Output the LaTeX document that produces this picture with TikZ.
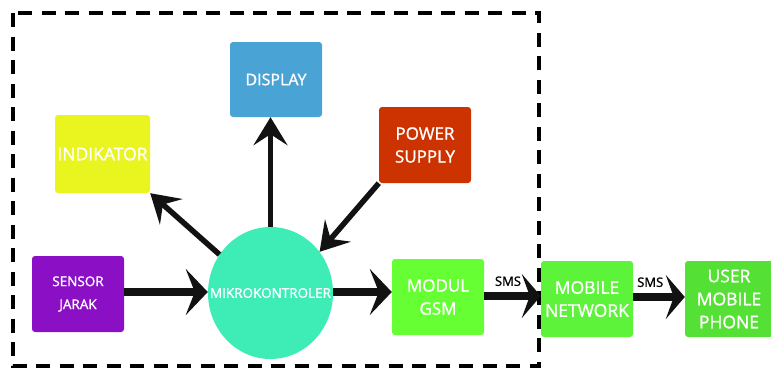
\documentclass[tikz,border=0pt]{standalone}
\usepackage{fontspec}
\setmainfont{Open Sans}
\newfontfamily\boxfont{Open Sans}[FakeBold=1.3]
\usetikzlibrary{arrows.meta,shapes.geometric}
\definecolor{cdisplay}{HTML}{4AA3D5}
\definecolor{cindik}{HTML}{EAF41E}
\definecolor{cpower}{HTML}{CC3300}
\definecolor{csensor}{HTML}{8B0FC4}
\definecolor{cmikro}{HTML}{3DEDB5}
\definecolor{cmodul}{HTML}{66FF33}
\definecolor{cmobile}{HTML}{5CF33A}
\definecolor{cuser}{HTML}{55E035}
\begin{document}
\begin{tikzpicture}[x=1pt,y=-1pt,
  blk/.style={rectangle, rounded corners=3pt, draw=none, text=white, align=center,
    inner sep=0pt, font=\boxfont\fontsize{17}{23}\selectfont},
  arr/.style={draw=black!93, line width=8pt, -{Stealth[length=22pt,width=46pt,inset=9pt]}},
  smsarr/.style={draw=black!93, line width=8pt, -{Stealth[length=19pt,width=44pt,inset=8pt]}},
  thinarr/.style={draw=black!93, line width=5.5pt, -{Stealth[length=28pt,width=34pt,inset=11pt]}},
  smslbl/.style={font=\boxfont\fontsize{13}{15}\selectfont, text=black, inner sep=0pt, anchor=south}
]
\useasboundingbox (0,0) rectangle (771,368);
% dashed frame
\draw[line width=3.5pt, dash pattern=on 14pt off 9.5pt] (13,13) rectangle (539,366);

% nodes
\node[blk, fill=cdisplay, minimum width=92pt, minimum height=75pt, font=\boxfont\fontsize{16}{23}\selectfont] (display) at (276,79.5) {DISPLAY};
\node[blk, fill=cindik, minimum width=95pt, minimum height=78pt, font=\boxfont\fontsize{17.5}{23}\selectfont] (indik) at (102.5,154) {INDIKATOR};
\node[blk, fill=cpower, minimum width=92pt, minimum height=76pt] (power) at (425,145) {POWER\\SUPPLY};
\node[blk, fill=csensor, minimum width=92pt, minimum height=76pt, font=\boxfont\fontsize{13.5}{23}\selectfont] (sensor) at (78,294) {SENSOR\\JARAK};
\node[ellipse, fill=cmikro, draw=none, inner sep=0pt, minimum width=125pt, minimum height=132pt,
  label={[text=white, font=\boxfont\fontsize{13.5}{16}\selectfont, inner sep=0pt]center:MIKROKONTROLER}] (mikro) at (270.5,293) {};
\node[blk, fill=cmodul, minimum width=92pt, minimum height=76pt] (modul) at (438,297) {MODUL\\GSM};
\node[blk, fill=cmobile, minimum width=92pt, minimum height=76pt, font=\boxfont\fontsize{17.5}{23}\selectfont] (mobile) at (587,299) {MOBILE\\NETWORK};
\node[blk, fill=cuser, minimum width=88pt, minimum height=76pt, font=\boxfont\fontsize{17.5}{23}\selectfont] (user) at (729,299) {USER\\MOBILE\\PHONE};

% connectors
\draw[arr] (sensor.east |- 0,292) -- (mikro.west |- 0,292);
\draw[arr] (mikro.east |- 0,292) -- (modul.west |- 0,292);
\draw[smsarr] (modul.east |- 0,296) -- (mobile.west |- 0,296) node[smslbl, pos=0.42, yshift=6pt] {SMS};
\draw[smsarr] (mobile.east |- 0,297) -- (user.west |- 0,297) node[smslbl, pos=0.33, yshift=6pt] {SMS};
\draw[thinarr] (mikro.north) -- (mikro.north |- display.south);
\draw[thinarr] (mikro.143) -- (indik.south east);
\draw[thinarr] (power.south west) -- (mikro.40);
\end{tikzpicture}
\end{document}
